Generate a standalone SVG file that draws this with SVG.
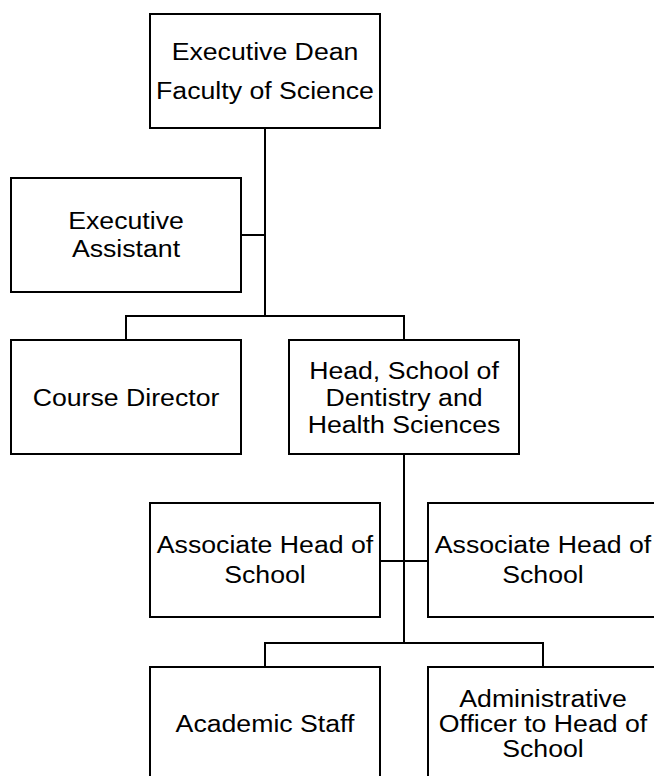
<svg xmlns="http://www.w3.org/2000/svg" width="654" height="776" viewBox="0 0 654 776">
<style>
.box{fill:#fff;stroke:#000;stroke-width:2}
.ln{fill:none;stroke:#000;stroke-width:2}
text{font-family:"Liberation Sans",Arial,sans-serif;font-size:23px;fill:#000;text-anchor:middle}
</style>
<rect width="654" height="776" fill="#fff"/>
<g id="connectors">
<path class="ln" d="M265 128V316M241 235H265M126 340V316H404V340"/>
<path class="ln" d="M404 454V643M380 561H428M265 667V643H543V667"/>
</g>
<g id="dean">
<rect class="box" x="150" y="14" width="230" height="114"/>
<text transform="translate(265 0) scale(1.16 1)"><tspan x="0" y="60">Executive Dean</tspan><tspan x="0" y="99">Faculty of Science</tspan></text>
</g>
<g id="assistant">
<rect class="box" x="11" y="178" width="230" height="114"/>
<text transform="translate(126 0) scale(1.16 1)"><tspan x="0" y="229">Executive</tspan><tspan x="0" y="257">Assistant</tspan></text>
</g>
<g id="course">
<rect class="box" x="11" y="340" width="230" height="114"/>
<text transform="translate(126 0) scale(1.16 1)"><tspan x="0" y="406">Course Director</tspan></text>
</g>
<g id="head">
<rect class="box" x="289" y="340" width="230" height="114"/>
<text transform="translate(404 0) scale(1.16 1)"><tspan x="0" y="379">Head, School of</tspan><tspan x="0" y="406">Dentistry and</tspan><tspan x="0" y="433">Health Sciences</tspan></text>
</g>
<g id="assoc1">
<rect class="box" x="150" y="503" width="230" height="114"/>
<text transform="translate(265 0) scale(1.16 1)"><tspan x="0" y="553">Associate Head of</tspan><tspan x="0" y="583">School</tspan></text>
</g>
<g id="assoc2">
<rect class="box" x="428" y="503" width="230" height="114"/>
<text transform="translate(543 0) scale(1.16 1)"><tspan x="0" y="553">Associate Head of</tspan><tspan x="0" y="583">School</tspan></text>
</g>
<g id="academic">
<rect class="box" x="150" y="667" width="230" height="114"/>
<text transform="translate(265 0) scale(1.16 1)"><tspan x="0" y="732">Academic Staff</tspan></text>
</g>
<g id="admin">
<rect class="box" x="428" y="667" width="230" height="114"/>
<text transform="translate(543 0) scale(1.16 1)"><tspan x="0" y="707">Administrative</tspan><tspan x="0" y="732">Officer to Head of</tspan><tspan x="0" y="757">School</tspan></text>
</g>
</svg>
